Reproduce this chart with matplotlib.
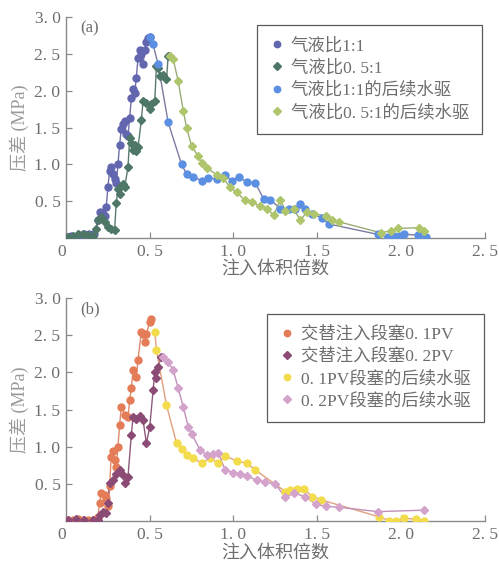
"""
Pressure difference vs injected pore volumes: (a) gas/liquid ratio comparison,
(b) alternating slug size comparison, each followed by subsequent water flooding.
"""
import matplotlib
matplotlib.use("Agg")
import matplotlib.pyplot as plt
from matplotlib.lines import Line2D

# ---- data (a) ----
a1_x = [0.01, 0.03, 0.05, 0.08, 0.11, 0.14, 0.17, 0.19, 0.20, 0.22, 0.23, 0.24, 0.25,
        0.26, 0.27, 0.28, 0.29, 0.30, 0.31, 0.32, 0.33, 0.34, 0.35, 0.36, 0.37, 0.38,
        0.39, 0.40, 0.41, 0.42, 0.43, 0.44, 0.45, 0.46, 0.47, 0.48, 0.49, 0.50]
a1_y = [0.02, 0.03, 0.02, 0.04, 0.05, 0.06, 0.05, 0.24, 0.35, 0.33, 0.30, 0.42, 0.69,
        0.91, 0.96, 0.87, 0.80, 0.75, 1.00, 1.27, 1.48, 1.55, 1.59, 1.41, 1.39, 1.63,
        1.90, 2.02, 1.97, 2.18, 2.45, 2.56, 2.50, 2.36, 2.56, 2.67, 2.72, 2.73]

a2_x = [0.01, 0.04, 0.07, 0.10, 0.13, 0.16, 0.18, 0.19, 0.21, 0.23, 0.25, 0.27, 0.29,
        0.30, 0.31, 0.32, 0.33, 0.34, 0.35, 0.37, 0.38, 0.39, 0.40, 0.41, 0.42, 0.43,
        0.45, 0.46, 0.48, 0.50, 0.51, 0.53, 0.54, 0.55, 0.56, 0.58, 0.60, 0.61]
a2_y = [0.02, 0.03, 0.06, 0.05, 0.04, 0.03, 0.12, 0.24, 0.28, 0.22, 0.15, 0.12, 0.11,
        0.48, 0.66, 0.60, 0.71, 0.73, 0.69, 0.96, 1.36, 1.29, 1.20, 1.27, 1.18, 1.23,
        1.61, 1.86, 1.84, 1.75, 1.82, 1.86, 2.34, 2.31, 2.20, 2.22, 2.16, 2.47]

a3_x = [0.50, 0.52, 0.55, 0.61, 0.69, 0.72, 0.76, 0.81, 0.85, 0.90, 0.95, 0.99, 1.03,
        1.08, 1.13, 1.18, 1.22, 1.28, 1.33, 1.37, 1.40, 1.43, 1.47, 1.53, 1.57, 1.86,
        1.92, 1.96, 1.99, 2.02, 2.10, 2.15]
a3_y = [2.73, 2.63, 2.36, 1.57, 1.00, 0.87, 0.83, 0.78, 0.82, 0.80, 0.85, 0.78, 0.83,
        0.76, 0.75, 0.53, 0.52, 0.40, 0.39, 0.40, 0.46, 0.40, 0.33, 0.27, 0.19, 0.05,
        0.01, 0.03, 0.03, 0.05, 0.04, 0.01]

a4_x = [0.62, 0.64, 0.67, 0.70, 0.72, 0.75, 0.79, 0.81, 0.84, 0.90, 0.94, 0.98, 1.02,
        1.07, 1.11, 1.16, 1.20, 1.24, 1.28, 1.31, 1.36, 1.40, 1.44, 1.48, 1.55, 1.59,
        1.63, 1.88, 1.94, 1.98, 2.11, 2.14]
a4_y = [2.47, 2.43, 2.13, 1.73, 1.50, 1.25, 1.11, 1.02, 0.95, 0.86, 0.81, 0.69, 0.62,
        0.51, 0.49, 0.43, 0.40, 0.31, 0.52, 0.37, 0.39, 0.24, 0.36, 0.33, 0.30, 0.25,
        0.22, 0.07, 0.10, 0.13, 0.14, 0.09]

# ---- data (b) ----
b1_x = [0.01, 0.04, 0.07, 0.10, 0.13, 0.16, 0.19, 0.20, 0.21, 0.23, 0.24, 0.25, 0.26,
        0.27, 0.28, 0.29, 0.30, 0.31, 0.32, 0.33, 0.35, 0.37, 0.38, 0.39, 0.40, 0.42,
        0.43, 0.45, 0.46, 0.47, 0.48, 0.50, 0.51]
b1_y = [0.02, 0.02, 0.03, 0.02, 0.02, 0.02, 0.06, 0.24, 0.38, 0.35, 0.31, 0.20, 0.47,
        0.87, 0.94, 0.82, 0.73, 1.00, 1.29, 1.54, 1.43, 1.40, 1.63, 1.79, 2.03, 1.94,
        2.17, 2.55, 2.52, 2.41, 2.52, 2.68, 2.72]

b2_x = [0.01, 0.06, 0.11, 0.16, 0.19, 0.20, 0.22, 0.24, 0.25, 0.26, 0.28, 0.30, 0.32,
        0.34, 0.35, 0.37, 0.39, 0.40, 0.42, 0.44, 0.46, 0.48, 0.50, 0.52, 0.53, 0.54,
        0.55, 0.57]
b2_y = [0.02, 0.03, 0.02, 0.02, 0.02, 0.08, 0.13, 0.11, 0.24, 0.51, 0.55, 0.64, 0.69,
        0.62, 0.51, 0.60, 1.16, 1.40, 1.38, 1.41, 1.36, 1.05, 1.27, 1.76, 2.01, 1.92,
        2.08, 2.21]

b3_x = [0.53, 0.54, 0.60, 0.66, 0.69, 0.72, 0.76, 0.81, 0.86, 0.91, 0.95, 1.02, 1.08,
        1.13, 1.31, 1.34, 1.38, 1.42, 1.47, 1.52, 1.87, 1.93, 1.97, 2.02, 2.09, 2.14]
b3_y = [2.55, 2.30, 1.56, 1.05, 0.97, 0.89, 0.85, 0.78, 0.85, 0.78, 0.88, 0.81, 0.78,
        0.69, 0.40, 0.42, 0.44, 0.44, 0.33, 0.29, 0.06, 0.01, 0.01, 0.04, 0.03, 0.01]

b4_x = [0.58, 0.61, 0.64, 0.67, 0.70, 0.73, 0.75, 0.80, 0.84, 0.88, 0.91, 0.95, 1.00,
        1.04, 1.08, 1.14, 1.19, 1.25, 1.31, 1.36, 1.43, 1.49, 1.55, 1.63, 1.86, 2.14]
b4_y = [2.21, 2.14, 2.03, 1.79, 1.54, 1.27, 1.18, 0.96, 0.89, 0.91, 0.92, 0.69, 0.65,
        0.64, 0.61, 0.55, 0.53, 0.50, 0.32, 0.38, 0.33, 0.23, 0.20, 0.19, 0.13, 0.15]

labels_a = ["气液比1:1", "气液比0. 5:1", "气液比1:1的后续水驱", "气液比0. 5:1的后续水驱"]
labels_b = ["交替注入段塞0. 1PV", "交替注入段塞0. 2PV", "0. 1PV段塞的后续水驱", "0. 2PV段塞的后续水驱"]
xticks = [0, 0.5, 1.0, 1.5, 2.0, 2.5]
xtick_labels = ["0", "0. 5", "1. 0", "1. 5", "2. 0", "2. 5"]
yticks = [0.5, 1.0, 1.5, 2.0, 2.5, 3.0]
ytick_labels = ["0. 5", "1. 0", "1. 5", "2. 0", "2. 5", "3. 0"]

# ---- styles ----
STY_A = [("o", "#6266ae", "#6f6fa8"), ("D", "#4f7767", "#5b7a6e"),
         ("o", "#5b8fe2", "#7c7aa0"), ("D", "#afc56c", "#9aab78")]
STY_B = [("o", "#e47c58", "#dd8a6c"), ("D", "#8c4b75", "#8e5a7c"),
         ("o", "#f3dc4c", "#e0a080"), ("D", "#d4a3cb", "#c090b8")]
FAM = ["Liberation Serif", "Noto Sans CJK SC"]
TXT = "#6e6e6e"
SPINE = "#8a8a8a"

plt.rcParams["font.family"] = FAM
plt.rcParams["axes.unicode_minus"] = False

fig = plt.figure(figsize=(4.99, 5.68), dpi=100)
ax_a = fig.add_axes([0.1323, 0.581, 0.839, 0.3886])
ax_b = fig.add_axes([0.1323, 0.0822, 0.839, 0.393])


def draw(ax, series, styles, labels, tag, leg_xy):
    for (x, y), (mk, mc, lc) in zip(series, styles):
        ms = 5.0 if mk == "o" else 4.2
        ax.plot(x, y, color=lc, lw=1.0, zorder=2)
        ax.plot(x, y, ls="none", marker=mk, ms=ms, mfc=mc, mec=mc, zorder=3)
    ax.set_xlim(0, 2.5)
    ax.set_ylim(0, 3.0)
    ax.set_xticks(xticks)
    ax.set_xticklabels(xtick_labels)
    ax.set_yticks(yticks)
    ax.set_yticklabels(ytick_labels)
    ax.get_xticklabels()[0].set_horizontalalignment("right")
    ax.tick_params(direction="in", length=4, width=0.9, color=SPINE,
                   labelcolor=TXT, labelsize=12.5, pad=4)
    for s in ("top", "right"):
        ax.spines[s].set_visible(False)
    for s in ("left", "bottom"):
        ax.spines[s].set_color(SPINE)
        ax.spines[s].set_linewidth(1.0)
    ax.set_xlabel("注入体积倍数", color=TXT, fontsize=13, labelpad=1)
    ax.set_ylabel("压差 (MPa)", color="#9a9a9a", fontsize=13, labelpad=4)
    ax.text(0.035, 0.985, tag, transform=ax.transAxes, color=TXT,
            fontsize=12, ha="left", va="top")
    handles = [Line2D([], [], ls="none", marker=mk,
                      ms=(4.6 if mk == "o" else 4.0), mfc=mc, mec=mc)
               for mk, mc, _ in styles]
    leg = ax.legend(handles, labels, loc="upper right", bbox_to_anchor=leg_xy,
                    fontsize=12.5, frameon=True, fancybox=False, framealpha=1,
                    handlelength=0.8, handletextpad=0.4, labelspacing=0.32,
                    borderpad=0.75, borderaxespad=0)
    leg.get_frame().set_edgecolor("#5a5a5a")
    leg.get_frame().set_linewidth(0.9)
    for t in leg.get_texts():
        t.set_color(TXT)


draw(ax_a, [(a1_x, a1_y), (a2_x, a2_y), (a3_x, a3_y), (a4_x, a4_y)],
     STY_A, labels_a, "(a)", (0.9935, 0.965))
draw(ax_b, [(b1_x, b1_y), (b2_x, b2_y), (b3_x, b3_y), (b4_x, b4_y)],
     STY_B, labels_b, "(b)", (0.9985, 0.93))

fig.savefig("out.png", dpi=100)
